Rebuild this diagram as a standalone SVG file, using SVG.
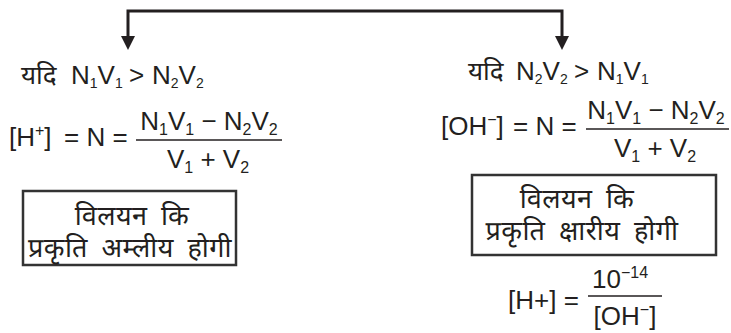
<svg xmlns="http://www.w3.org/2000/svg" width="731" height="333" viewBox="0 0 731 333">
<style>
text{fill:#231f20;font-family:"Liberation Sans",Arial,sans-serif;}
.dev{font-family:"Noto Sans Devanagari","Lohit Devanagari","Noto Sans",sans-serif;font-weight:normal;}
.row{font-size:26px;}
.eq{font-size:26px;}
.bx{font-size:27px;font-family:"Noto Sans Devanagari","Lohit Devanagari","Noto Sans",sans-serif;letter-spacing:0.5px;word-spacing:6px;}
.sub{font-size:14px;}
.sub2{font-size:16px;}
.box{fill:none;stroke:#333;stroke-width:2.5;}
.frac{stroke:#231f20;stroke-width:1.5;}
.conn{fill:none;stroke:#231f20;stroke-width:3;}
</style>
<defs>
<marker id="arr" viewBox="0 0 14 14" refX="0" refY="7" markerWidth="14" markerHeight="14" markerUnits="userSpaceOnUse" orient="auto-start-reverse">
<path d="M0,0 L14,7 L0,14 Z" fill="#231f20"/>
</marker>
</defs>
<g id="connectors">
<path class="conn" d="M128,36 V11 H562 V36" marker-start="url(#arr)" marker-end="url(#arr)"/>
</g>
<g id="left-branch">
<text class="row" x="21" y="84"><tspan class="dev">यदि</tspan><tspan x="71">N</tspan><tspan class="sub" dy="4">1</tspan><tspan dy="-4">V</tspan><tspan class="sub" dy="4">1</tspan><tspan dy="-4" x="129">&gt;</tspan><tspan x="152">N</tspan><tspan class="sub" dy="4">2</tspan><tspan dy="-4">V</tspan><tspan class="sub" dy="4">2</tspan></text>
<text class="eq" x="9" y="146">[H<tspan class="sub2" dy="-10">+</tspan><tspan dy="10">]</tspan></text>
<text class="eq" x="64" y="146">= N =</text>
<line class="frac" x1="136" y1="140" x2="282" y2="140"/>
<text class="eq" x="209" y="130" text-anchor="middle">N<tspan class="sub2" dy="5">1</tspan><tspan dy="-5">V</tspan><tspan class="sub2" dy="5">1</tspan><tspan dy="-5"> − N</tspan><tspan class="sub2" dy="5">2</tspan><tspan dy="-5">V</tspan><tspan class="sub2" dy="5">2</tspan></text>
<text class="eq" x="208" y="168" text-anchor="middle">V<tspan class="sub2" dy="5">1</tspan><tspan dy="-5"> + V</tspan><tspan class="sub2" dy="5">2</tspan></text>
</g>
<g id="left-box">
<rect class="box" x="23" y="191" width="213" height="74"/>
<text class="bx" x="132" y="225" text-anchor="middle">विलयन कि</text>
<text class="bx" x="130" y="257" text-anchor="middle">प्रकृति अम्लीय होगी</text>
</g>
<g id="right-branch">
<text class="row" x="468" y="80"><tspan class="dev">यदि</tspan><tspan x="516">N</tspan><tspan class="sub" dy="4">2</tspan><tspan dy="-4">V</tspan><tspan class="sub" dy="4">2</tspan><tspan dy="-4" x="574">&gt;</tspan><tspan x="597">N</tspan><tspan class="sub" dy="4">1</tspan><tspan dy="-4">V</tspan><tspan class="sub" dy="4">1</tspan></text>
<text class="eq" x="441" y="135">[OH<tspan class="sub2" dy="-10">−</tspan><tspan dy="10">]</tspan></text>
<text class="eq" x="513" y="135">= N =</text>
<line class="frac" x1="586" y1="129" x2="729" y2="129"/>
<text class="eq" x="656" y="119" text-anchor="middle">N<tspan class="sub2" dy="5">1</tspan><tspan dy="-5">V</tspan><tspan class="sub2" dy="5">1</tspan><tspan dy="-5"> − N</tspan><tspan class="sub2" dy="5">2</tspan><tspan dy="-5">V</tspan><tspan class="sub2" dy="5">2</tspan></text>
<text class="eq" x="655" y="157" text-anchor="middle">V<tspan class="sub2" dy="5">1</tspan><tspan dy="-5"> + V</tspan><tspan class="sub2" dy="5">2</tspan></text>
</g>
<g id="right-box">
<rect class="box" x="472" y="175" width="244" height="80"/>
<text class="bx" x="577" y="208" text-anchor="middle">विलयन कि</text>
<text class="bx" x="582" y="240" text-anchor="middle">प्रकृति क्षारीय होगी</text>
</g>
<g id="h-ion">
<text class="eq" x="508" y="309">[H+] =</text>
<line class="frac" x1="588" y1="296" x2="662" y2="296"/>
<text class="eq" x="592" y="288">10<tspan class="sub2" dy="-10">−14</tspan></text>
<text class="eq" x="625" y="325" text-anchor="middle">[OH<tspan class="sub2" dy="-10">−</tspan><tspan dy="10">]</tspan></text>
</g>
</svg>
